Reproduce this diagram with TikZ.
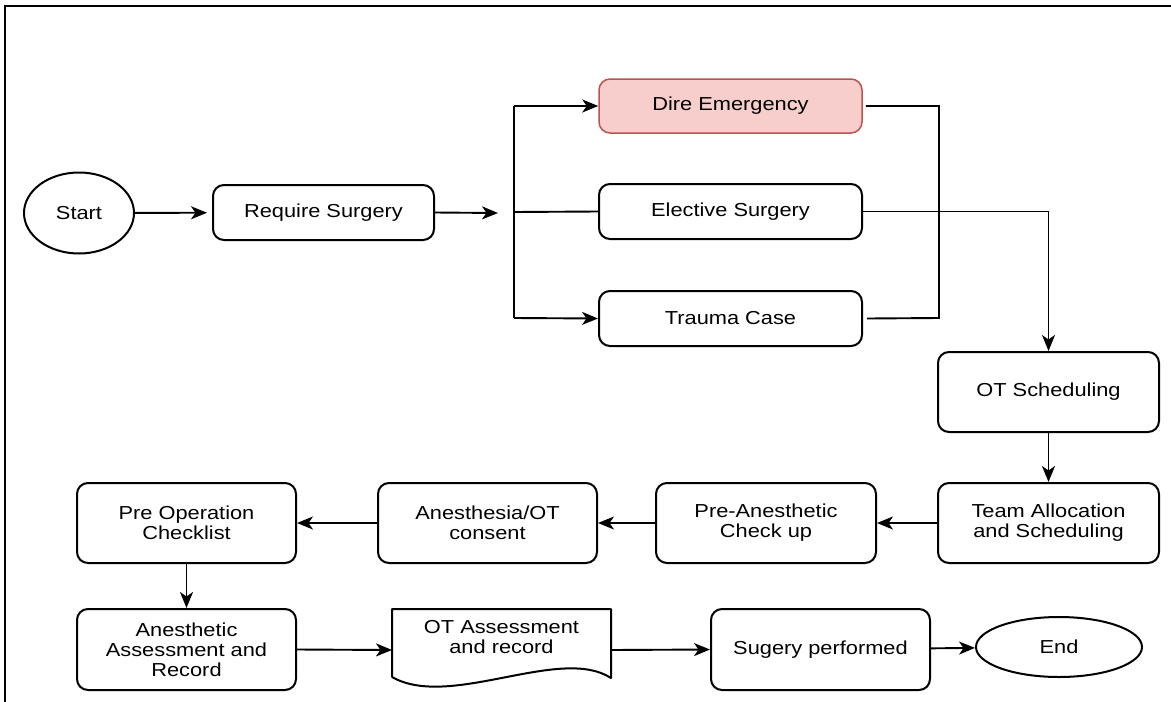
\documentclass[tikz,border=0pt]{standalone}
\usepackage{fontspec}
\setmainfont{Liberation Sans}[FakeStretch=1.16]
\usetikzlibrary{arrows.meta,shapes.geometric}
\definecolor{pinkfill}{HTML}{F8CECC}
\definecolor{pinkdraw}{HTML}{B85450}
\tikzset{
  base/.style={draw, line width=2pt, align=center, inner sep=0pt,
    font=\fontsize{18.8}{19.8}\selectfont},
  stepbox/.style={base, rectangle, rounded corners=11pt},
  oval/.style={base, ellipse},
  link/.style={line width=1.9pt},
  arr/.style={link, -{Stealth[length=16pt,width=13pt,inset=4.5pt]}},
}
\begin{document}
\begin{tikzpicture}[x=1pt,y=-1pt]
\useasboundingbox (0,0) rectangle (1171,702);
% frame
\draw[line width=2.8pt] (5,702) -- (5,6) -- (1175,6);

% nodes
\node[oval, minimum width=110pt, minimum height=81pt] (start) at (79,213) {Start};
\node[stepbox, minimum width=221pt, minimum height=55pt] (req) at (323.5,212.5) {Require Surgery};
\node[stepbox, minimum width=263pt, minimum height=54pt, fill=pinkfill, draw=pinkdraw, line width=1.5pt] (dire) at (730.5,106) {Dire Emergency};
\node[stepbox, minimum width=263pt, minimum height=55pt] (elect) at (730.5,211.5) {Elective Surgery};
\node[stepbox, minimum width=263pt, minimum height=55pt] (trauma) at (730.5,318.5) {Trauma Case};
\node[stepbox, minimum width=221pt, minimum height=80pt] (ots) at (1048.5,392) {OT Scheduling};
\node[stepbox, minimum width=221pt, minimum height=80pt] (team) at (1048.5,523) {Team Allocation\\and Scheduling};
\node[stepbox, minimum width=220pt, minimum height=80pt] (prean) at (766,523) {Pre-Anesthetic\\Check up};
\node[stepbox, minimum width=219pt, minimum height=80pt] (anes) at (487.5,523) {Anesthesia/OT\\consent};
\node[stepbox, minimum width=219pt, minimum height=80pt] (preop) at (186.5,523) {Pre Operation\\Checklist};
\node[stepbox, minimum width=219pt, minimum height=81pt] (aa) at (186.5,649.5) {Anesthetic\\Assessment and\\Record};
% document shape
\draw[line width=2pt, line join=round] (392,677) -- (392,609) -- (611,609) -- (611,678)
  .. controls (560,645) and (450,710) .. (392,677);
\node[base, draw=none] (doc) at (501.5,637) {OT Assessment\\and record};
\coordinate (docW) at (392,650);
\coordinate (docE) at (611,650);
\node[stepbox, minimum width=219pt, minimum height=81pt] (sug) at (820.5,649.5) {Sugery performed};
\node[oval, minimum width=166pt, minimum height=60pt] (end) at (1059,647) {End};

% junction coordinates
\coordinate (jin) at (498,213);
\coordinate (jt) at (514,106);
\coordinate (jm) at (514,212);
\coordinate (jb) at (514,318);
\coordinate (rt) at (939,106);
\coordinate (rb) at (939,318);

% connectors
\draw[arr, shorten >=5pt] (start) -- (req);
\draw[arr] (req.east) -- (jin);
\draw[link] (jt) -- (jb);
\draw[arr] (jt) -- (dire.west);
\draw[arr] (jb) -- (trauma.west);
\draw[link] (jm) -- (elect.west);
\draw[link] ([xshift=3pt]dire.east) -- (rt) -- (rb) -- ([xshift=4pt]trauma.east);
\draw[arr] (elect.east) -| (ots.north);
\draw[arr] (ots) -- (team);
\draw[arr] (team) -- (prean);
\draw[arr] (prean) -- (anes);
\draw[arr] (anes) -- (preop);
\draw[arr] (preop) -- (aa);
\draw[arr] (aa.east) -- (docW);
\draw[arr] (docE) -- (sug.west);
\draw[arr] (sug) -- (end);
\end{tikzpicture}
\end{document}
